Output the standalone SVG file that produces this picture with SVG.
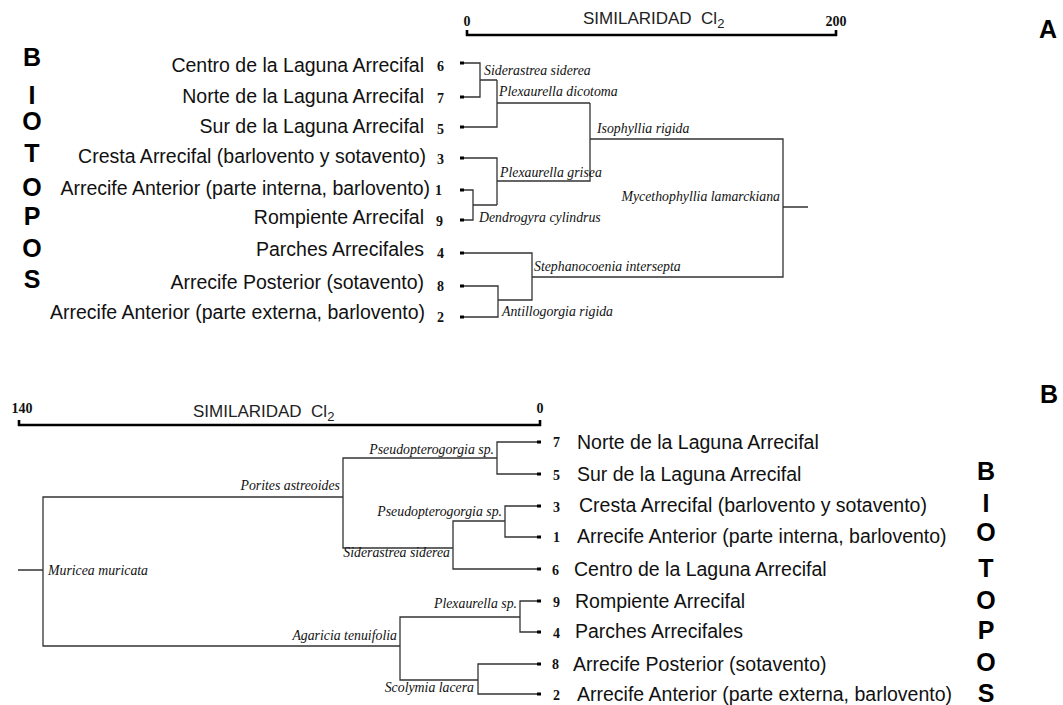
<svg xmlns="http://www.w3.org/2000/svg" width="1063" height="705" viewBox="0 0 1063 705">
<style>
.lbl{font-family:"Liberation Sans",Arial,sans-serif;font-size:19.5px;fill:#111}
.num{font-family:"Liberation Serif","Times New Roman",serif;font-size:14px;font-weight:bold;fill:#111}
.sp{font-family:"Liberation Serif","Times New Roman",serif;font-size:13.8px;font-style:italic;fill:#111}
.big{font-family:"Liberation Sans",Arial,sans-serif;font-size:25px;font-weight:bold;fill:#000;text-anchor:middle}
.ttl{font-family:"Liberation Sans",Arial,sans-serif;font-size:17px;fill:#222}
.ln{fill:none;stroke:#333;stroke-width:1.3}
.bar{fill:none;stroke:#000;stroke-width:2.6}
.mk{fill:#000}
</style>
<rect width="1063" height="705" fill="#fff"/>

<!-- Panel A -->
<g id="panel-A-title"><text class="big" x="1048" y="38">A</text></g>
<g id="scale-A">
<path class="bar" d="M466,35 H837 M467,30 V36 M836,30 V36"/>
<text class="num" x="467" y="26" text-anchor="middle">0</text>
<text class="num" x="836" y="26" text-anchor="middle">200</text>
<text class="ttl" x="583" y="24">SIMILARIDAD&#160; Cl<tspan font-size="13" dy="4">2</tspan></text>
</g>
<g id="biotopos-left">
<text class="big" x="32" y="66">B</text>
<text class="big" x="32" y="104">I</text>
<text class="big" x="32" y="130">O</text>
<text class="big" x="32" y="162">T</text>
<text class="big" x="32" y="196">O</text>
<text class="big" x="32" y="225">P</text>
<text class="big" x="32" y="257">O</text>
<text class="big" x="32" y="288">S</text>
</g>
<g id="leavesA" text-anchor="end">
<g id="a6"><text class="lbl" x="424" y="72">Centro de la Laguna Arrecifal</text><text class="num" x="437" y="71" text-anchor="start">6</text></g>
<g id="a7"><text class="lbl" x="424" y="103">Norte de la Laguna Arrecifal</text><text class="num" x="437" y="103" text-anchor="start">7</text></g>
<g id="a5"><text class="lbl" x="424" y="133">Sur de la Laguna Arrecifal</text><text class="num" x="437" y="134" text-anchor="start">5</text></g>
<g id="a3"><text class="lbl" x="426" y="163">Cresta Arrecifal (barlovento y sotavento)</text><text class="num" x="437" y="164" text-anchor="start">3</text></g>
<g id="a1"><text class="lbl" x="430" y="195">Arrecife Anterior (parte interna, barlovento)</text><text class="num" x="435" y="195" text-anchor="start">1</text></g>
<g id="a9"><text class="lbl" x="424" y="224">Rompiente Arrecifal</text><text class="num" x="436" y="226" text-anchor="start">9</text></g>
<g id="a4"><text class="lbl" x="424" y="256">Parches Arrecifales</text><text class="num" x="437" y="258" text-anchor="start">4</text></g>
<g id="a8"><text class="lbl" x="424" y="289">Arrecife Posterior (sotavento)</text><text class="num" x="437" y="291" text-anchor="start">8</text></g>
<g id="a2"><text class="lbl" x="425" y="319">Arrecife Anterior (parte externa, barlovento)</text><text class="num" x="437" y="322" text-anchor="start">2</text></g>
</g>
<g id="connectorsA">
<path class="ln" d="M460,63 H480 V97 H460 M480,80 H497 M460,127 H497 V80 M497,103 H590 M460,158 H497 V205 M460,190 H473 V220 H460 M473,205 H497 M497,181 H590 V103 M590,139 H783 V277 H532 M783,207 H808 M460,253 H532 V300 H498 M460,286 H498 V317 H460"/>
<g class="mk">
<rect x="460" y="61.5" width="4" height="3"/><rect x="460" y="95.5" width="4" height="3"/><rect x="460" y="125.5" width="4" height="3"/><rect x="460" y="156.5" width="4" height="3"/><rect x="460" y="188.5" width="4" height="3"/><rect x="460" y="218.5" width="4" height="3"/><rect x="460" y="251.5" width="4" height="3"/><rect x="460" y="284.5" width="4" height="3"/><rect x="460" y="315.5" width="4" height="3"/>
</g>
</g>
<g id="speciesA">
<text class="sp" x="484" y="75">Siderastrea siderea</text>
<text class="sp" x="499" y="96">Plexaurella dicotoma</text>
<text class="sp" x="597" y="133">Isophyllia rigida</text>
<text class="sp" x="500" y="177">Plexaurella grisea</text>
<text class="sp" x="479" y="222">Dendrogyra cylindrus</text>
<text class="sp" x="780" y="201" text-anchor="end">Mycethophyllia lamarckiana</text>
<text class="sp" x="534" y="271">Stephanocoenia intersepta</text>
<text class="sp" x="502" y="316">Antillogorgia rigida</text>
</g>

<!-- Panel B -->
<g id="panel-B-title"><text class="big" x="1049" y="403">B</text></g>
<g id="scale-B">
<path class="bar" d="M18,425 H541 M19,420 V426 M540,420 V426"/>
<text class="num" x="22" y="413" text-anchor="middle">140</text>
<text class="num" x="540" y="413" text-anchor="middle">0</text>
<text class="ttl" x="193" y="417">SIMILARIDAD&#160; Cl<tspan font-size="13" dy="4">2</tspan></text>
</g>
<g id="biotopos-right">
<text class="big" x="986" y="480">B</text>
<text class="big" x="986" y="512">I</text>
<text class="big" x="986" y="541">O</text>
<text class="big" x="986" y="577">T</text>
<text class="big" x="986" y="609">O</text>
<text class="big" x="986" y="639">P</text>
<text class="big" x="986" y="671">O</text>
<text class="big" x="986" y="702">S</text>
</g>
<g id="leavesB">
<g id="b7"><text class="num" x="553" y="447">7</text><text class="lbl" x="577" y="449">Norte de la Laguna Arrecifal</text></g>
<g id="b5"><text class="num" x="553" y="480">5</text><text class="lbl" x="577" y="481">Sur de la Laguna Arrecifal</text></g>
<g id="b3"><text class="num" x="553" y="512">3</text><text class="lbl" x="579" y="512">Cresta Arrecifal (barlovento y sotavento)</text></g>
<g id="b1"><text class="num" x="553" y="542">1</text><text class="lbl" x="577" y="543">Arrecife Anterior (parte interna, barlovento)</text></g>
<g id="b6"><text class="num" x="552" y="575">6</text><text class="lbl" x="574" y="576">Centro de la Laguna Arrecifal</text></g>
<g id="b9"><text class="num" x="553" y="607">9</text><text class="lbl" x="575" y="608">Rompiente Arrecifal</text></g>
<g id="b4"><text class="num" x="553" y="638">4</text><text class="lbl" x="575" y="638">Parches Arrecifales</text></g>
<g id="b8"><text class="num" x="552" y="669">8</text><text class="lbl" x="573" y="671">Arrecife Posterior (sotavento)</text></g>
<g id="b2"><text class="num" x="553" y="700">2</text><text class="lbl" x="577" y="701">Arrecife Anterior (parte externa, barlovento)</text></g>
</g>
<g id="connectorsB">
<path class="ln" d="M540,442 H497 V474 H540 M497,458 H343 V548 H453 M540,506 H505 V537 H540 M505,521 H453 V569 H540 M343,497 H43 V646 H400 M18,570 H43 M540,601 H520 V632 H540 M520,617 H400 V680 H478 M540,664 H478 V694 H540"/>
<g class="mk">
<rect x="537" y="440.5" width="4" height="3"/><rect x="537" y="472.5" width="4" height="3"/><rect x="537" y="504.5" width="4" height="3"/><rect x="537" y="535.5" width="4" height="3"/><rect x="537" y="567.5" width="4" height="3"/><rect x="537" y="599.5" width="4" height="3"/><rect x="537" y="630.5" width="4" height="3"/><rect x="537" y="662.5" width="4" height="3"/><rect x="537" y="692.5" width="4" height="3"/>
</g>
</g>
<g id="speciesB" text-anchor="end">
<text class="sp" x="494" y="454">Pseudopterogorgia sp.</text>
<text class="sp" x="340" y="490">Porites astreoides</text>
<text class="sp" x="502" y="516">Pseudopterogorgia sp.</text>
<text class="sp" x="450" y="557">Siderastrea siderea</text>
<text class="sp" x="48" y="575" text-anchor="start">Muricea muricata</text>
<text class="sp" x="517" y="608">Plexaurella sp.</text>
<text class="sp" x="397" y="640">Agaricia tenuifolia</text>
<text class="sp" x="474" y="692">Scolymia lacera</text>
</g>
</svg>
